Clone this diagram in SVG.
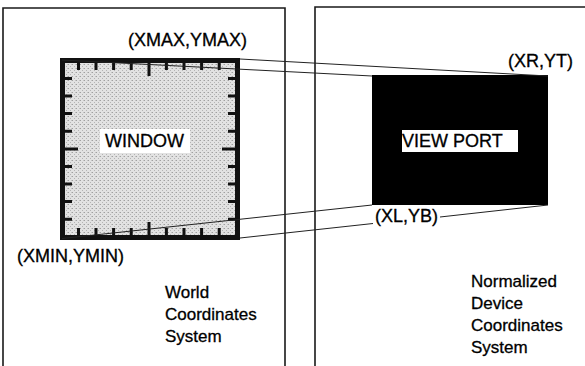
<svg xmlns="http://www.w3.org/2000/svg" width="585" height="366" viewBox="0 0 585 366">
<defs>
<pattern id="stipple" width="4" height="4" patternUnits="userSpaceOnUse">
<rect width="4" height="4" fill="#e2e2e2"/>
<rect x="0" y="0" width="1" height="1" fill="#a0a0a0"/>
<rect x="2" y="2" width="1" height="1" fill="#b4b4b4"/>
<rect x="3" y="0" width="1" height="1" fill="#c4c4c4"/>
</pattern>
</defs>
<style>
.panel{fill:none;stroke:#1a1a1a;stroke-width:1.6}
.conn{fill:none;stroke:#222;stroke-width:1}
.tick{fill:none;stroke:#111;stroke-width:3}
.lbl{font-family:"Liberation Sans",Arial,sans-serif;font-size:18px;fill:#000;stroke:#000;stroke-width:0.3}
.sys{font-family:"Liberation Sans",Arial,sans-serif;font-size:17px;fill:#000;stroke:#000;stroke-width:0.3}
</style>
<rect width="585" height="366" fill="#fff"/>
<g id="world-panel">
<path class="panel" d="M3,366 V8 H285 V366"/>
<text class="sys" x="165" y="298">World</text>
<text class="sys" x="165" y="320">Coordinates</text>
<text class="sys" x="165" y="342">System</text>
</g>
<g id="ndc-panel">
<path class="panel" d="M315,366 V7 H585"/>
<text class="sys" x="471" y="287">Normalized</text>
<text class="sys" x="471" y="309">Device</text>
<text class="sys" x="471" y="331">Coordinates</text>
<text class="sys" x="471" y="353">System</text>
</g>
<g id="window">
<rect x="62.5" y="60.5" width="175" height="177" fill="url(#stipple)" stroke="#111" stroke-width="5"/>
<path class="tick" d="M78.5,63v7M96,63v7M113.6,63v7M131.2,63v7M149,63v13M166.4,63v7M184,63v7M201.6,63v7M219.2,63v7"/>
<path class="tick" d="M78.5,235v-7M96,235v-7M113.6,235v-7M131.2,235v-7M149,235v-13M166.4,235v-7M184,235v-7M201.6,235v-7M219.2,235v-7"/>
<path class="tick" d="M65,78.5h7M65,96h7M65,113.6h7M65,131.2h7M65,149h13M65,166.4h7M65,184h7M65,201.6h7M65,219.2h7"/>
<path class="tick" d="M235,78.5h-7M235,96h-7M235,113.6h-7M235,131.2h-7M235,149h-13M235,166.4h-7M235,184h-7M235,201.6h-7M235,219.2h-7"/>
<rect x="100" y="129" width="90" height="24" fill="#fff"/>
<text class="lbl" x="105" y="147">WINDOW</text>
<text class="lbl" x="128" y="46">(XMAX,YMAX)</text>
<text class="lbl" x="17" y="262">(XMIN,YMIN)</text>
</g>
<g id="viewport">
<rect x="372" y="75" width="176" height="130" fill="#000"/>
<rect x="402" y="130" width="116" height="22" fill="#fff"/>
<text class="lbl" x="402" y="147">VIEW PORT</text>
<text class="lbl" x="508" y="67">(XR,YT)</text>
<text class="lbl" x="375" y="222">(XL,YB)</text>
</g>
<g id="connectors">
<path class="conn" d="M240,59 L548,76"/>
<path class="conn" d="M62,60 L372,76"/>
<path class="conn" d="M62,238.5 L372,205"/>
<path class="conn" d="M240,238 L373,223.5"/>
<path class="conn" d="M440,217 L548,205"/>
</g>
</svg>
